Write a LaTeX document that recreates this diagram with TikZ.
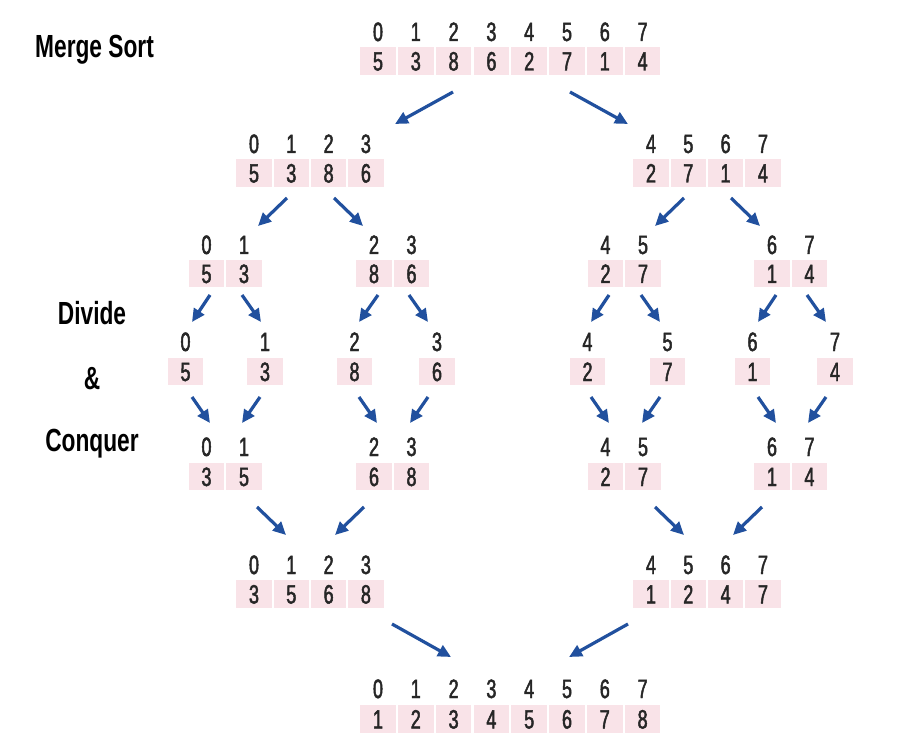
\documentclass[tikz,border=0pt]{standalone}
\usepackage{fontspec}
\setmainfont[FakeStretch=0.71]{Liberation Sans}
\newfontfamily\digitfont[FakeStretch=0.68,FakeBold=1.8]{Liberation Sans}
\usetikzlibrary{arrows.meta}
\definecolor{cellpink}{RGB}{249,227,232}
\definecolor{arrowblue}{RGB}{33,80,158}
\newcommand\mkarray[7]{% name, first x, pitch, idx baseline y, cell centre y, list idx/val
  \foreach \i/\v [count=\k from 0] in {#6} {
    \node[cellbox] (#1-\k) at ({#2+\k*#3},#5) {\v};
    \node[idxlab] (#1-i\k) at ({#2+\k*#3},#4) {\i};
  }%
}
\newcommand\mkarrow[5]{% name, x1, y1, x2, y2
  \coordinate (#1s) at (#2,#3);
  \coordinate (#1e) at (#4,#5);
  \draw[arrowline] (#1s) -- (#1e);
}
\begin{document}
\begin{tikzpicture}[x=1pt,y=-1pt,
  cellbox/.style={fill=cellpink, minimum width=35.5pt, minimum height=27.5pt, inner sep=0pt,
    text height=19pt, text depth=0pt, font=\digitfont\fontsize{26.5}{29}\selectfont, text=black!85},
  idxlab/.style={anchor=base, inner sep=0pt, font=\digitfont\fontsize{26.5}{29}\selectfont, text=black!85},
  sidelab/.style={anchor=base, inner sep=0pt, font=\fontsize{32}{36}\selectfont\bfseries},
  arrowline/.style={draw=arrowblue, line width=3.2pt, -{Triangle[length=13pt,width=12pt]}}]
\useasboundingbox[fill=white] (0,0) rectangle (908,754);

% labels
\node[sidelab, anchor=base west] (title) at (35,58) {Merge Sort};
\node[sidelab] (divide) at (92,324) {Divide};
\node[sidelab] (amp) at (92,389) {\&};
\node[sidelab] (conquer) at (92,451) {Conquer};

% top
\mkarray{top}{378}{37.8}{41}{61}{0/5,1/3,2/8,3/6,4/2,5/7,6/1,7/4}{}
% level 1
\mkarray{la}{254}{37.3}{153}{173}{0/5,1/3,2/8,3/6}{}
\mkarray{ra}{651}{37.3}{153}{173}{4/2,5/7,6/1,7/4}{}
% level 2
\mkarray{lb1}{206.5}{37.5}{254}{273.5}{0/5,1/3}{}
\mkarray{lb2}{374}{37.5}{254}{273.5}{2/8,3/6}{}
\mkarray{rb1}{605.5}{37.5}{254}{273.5}{4/2,5/7}{}
\mkarray{rb2}{772}{37.5}{254}{273.5}{6/1,7/4}{}
% level 3
\mkarray{c0}{185.5}{1}{351}{371.5}{0/5}{}
\mkarray{c1}{265}{1}{351}{371.5}{1/3}{}
\mkarray{c2}{354.5}{1}{351}{371.5}{2/8}{}
\mkarray{c3}{437}{1}{351}{371.5}{3/6}{}
\mkarray{c4}{587.5}{1}{351}{371.5}{4/2}{}
\mkarray{c5}{667.5}{1}{351}{371.5}{5/7}{}
\mkarray{c6}{752.5}{1}{351}{371.5}{6/1}{}
\mkarray{c7}{835}{1}{351}{371.5}{7/4}{}
% level 4
\mkarray{ld1}{206.5}{37.5}{456}{476.5}{0/3,1/5}{}
\mkarray{ld2}{374}{37.5}{456}{476.5}{2/6,3/8}{}
\mkarray{rd1}{605.5}{37.5}{456}{476.5}{4/2,5/7}{}
\mkarray{rd2}{772}{37.5}{456}{476.5}{6/1,7/4}{}
% level 5
\mkarray{le}{254}{37.3}{574}{594}{0/3,1/5,2/6,3/8}{}
\mkarray{re}{651}{37.3}{574}{594}{4/1,5/2,6/4,7/7}{}
% final
\mkarray{fin}{378}{37.8}{698}{719}{0/1,1/2,2/3,3/4,4/5,5/6,6/7,7/8}{}

% arrows: top -> level 1
\mkarrow{t1}{453}{92}{395}{124}
\mkarrow{t2}{570}{92}{628}{124}
% level 1 -> level 2
\mkarrow{u1}{287}{198}{258}{226}
\mkarrow{u2}{334}{198}{363}{226}
\mkarrow{u3}{684}{198}{655}{226}
\mkarrow{u4}{731}{198}{760}{226}
% level 2 -> level 3
\mkarrow{v1}{210}{295}{192}{322}
\mkarrow{v2}{242}{295}{261}{322}
\mkarrow{v3}{378}{295}{359}{322}
\mkarrow{v4}{409}{295}{428}{322}
\mkarrow{v5}{609}{295}{591}{322}
\mkarrow{v6}{641}{295}{660}{322}
\mkarrow{v7}{776}{295}{758}{322}
\mkarrow{v8}{807}{295}{826}{322}
% level 3 -> level 4
\mkarrow{w1}{192}{397}{210}{423}
\mkarrow{w2}{260}{397}{242}{423}
\mkarrow{w3}{359}{397}{377}{423}
\mkarrow{w4}{428}{397}{410}{423}
\mkarrow{w5}{591}{397}{609}{423}
\mkarrow{w6}{660}{397}{642}{423}
\mkarrow{w7}{758}{397}{776}{423}
\mkarrow{w8}{826}{397}{808}{423}
% level 4 -> level 5
\mkarrow{x1}{257}{507}{286}{535}
\mkarrow{x2}{364}{507}{335}{535}
\mkarrow{x3}{655}{507}{684}{535}
\mkarrow{x4}{762}{507}{733}{535}
% level 5 -> final
\mkarrow{y1}{392}{624}{451}{657}
\mkarrow{y2}{628}{624}{569}{657}
\end{tikzpicture}
\end{document}
